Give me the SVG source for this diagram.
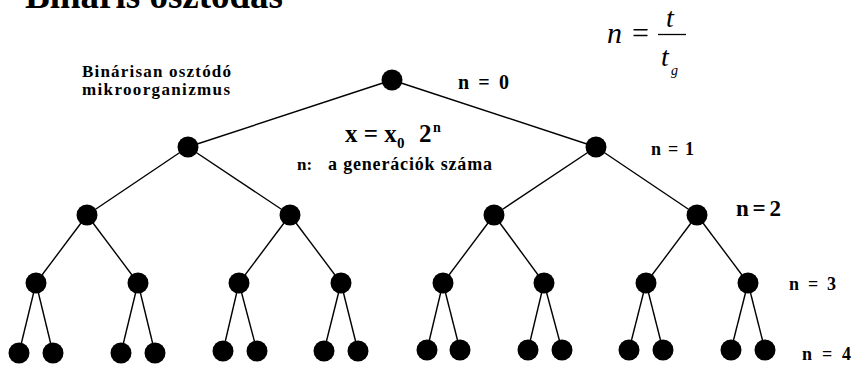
<svg xmlns="http://www.w3.org/2000/svg" width="852" height="365" viewBox="0 0 852 365">
<style>
.t{font-weight:bold}
.m{font-style:italic}
.e{stroke:#000;stroke-width:1.4;fill:none}
.n{fill:#000}
</style>
<rect width="852" height="365" fill="#fff"/>
<g id="labels" font-family="Liberation Serif, DejaVu Serif, serif" fill="#000">
<text class="t" x="25" y="8" font-size="37" textLength="258">Bináris osztódás</text>
<text class="t" x="82" y="77" font-size="17" textLength="149">Binárisan osztódó</text>
<text class="t" x="82" y="95" font-size="17" textLength="148">mikroorganizmus</text>
<g id="formula-n">
<text class="m" x="607" y="43" font-size="30">n</text>
<text x="632" y="43" font-size="30">=</text>
<line x1="658" y1="34.5" x2="686" y2="34.5" stroke="#000" stroke-width="1.3"/>
<text class="m" x="666" y="27" font-size="28">t</text>
<text class="m" x="661" y="66" font-size="28">t</text>
<text class="m" x="671" y="75" font-size="14">g</text>
</g>
<g id="formula-x">
<text class="t" x="345" y="142" font-size="25">x = x</text>
<text class="t" x="397" y="148" font-size="15">0</text>
<text class="t" x="419" y="142" font-size="25">2</text>
<text class="t" x="433" y="132" font-size="14">n</text>
</g>
<text class="t" x="297" y="170" font-size="17">n:</text>
<text class="t" x="328" y="170" font-size="18" textLength="164">a generációk száma</text>
<text class="t" x="458" y="89" font-size="20" textLength="51">n = 0</text>
<text class="t" x="651" y="155" font-size="18" textLength="43">n = 1</text>
<text class="t" x="736" y="216" font-size="23" textLength="45">n=2</text>
<text class="t" x="789" y="290" font-size="18" textLength="47">n = 3</text>
<text class="t" x="802" y="360" font-size="18" textLength="49">n = 4</text>
</g>
<g id="connectors" class="e">
<line x1="392" y1="80" x2="188" y2="147"/>
<line x1="392" y1="80" x2="596" y2="147"/>
<line x1="188" y1="147" x2="87" y2="215"/>
<line x1="188" y1="147" x2="290" y2="215"/>
<line x1="596" y1="147" x2="494" y2="215"/>
<line x1="596" y1="147" x2="697" y2="215"/>
<line x1="87" y1="215" x2="36" y2="283"/>
<line x1="87" y1="215" x2="138" y2="283"/>
<line x1="290" y1="215" x2="239" y2="283"/>
<line x1="290" y1="215" x2="341" y2="283"/>
<line x1="494" y1="215" x2="443" y2="283"/>
<line x1="494" y1="215" x2="544" y2="283"/>
<line x1="697" y1="215" x2="646" y2="283"/>
<line x1="697" y1="215" x2="748" y2="283"/>
<line x1="36" y1="283" x2="19" y2="353"/>
<line x1="36" y1="283" x2="53" y2="353"/>
<line x1="138" y1="283" x2="121" y2="353"/>
<line x1="138" y1="283" x2="155" y2="353"/>
<line x1="239" y1="283" x2="223" y2="351"/>
<line x1="239" y1="283" x2="257" y2="351"/>
<line x1="341" y1="283" x2="324" y2="351"/>
<line x1="341" y1="283" x2="358" y2="351"/>
<line x1="443" y1="283" x2="427" y2="350"/>
<line x1="443" y1="283" x2="460" y2="350"/>
<line x1="544" y1="283" x2="528" y2="350"/>
<line x1="544" y1="283" x2="562" y2="350"/>
<line x1="646" y1="283" x2="629" y2="350"/>
<line x1="646" y1="283" x2="663" y2="350"/>
<line x1="748" y1="283" x2="731" y2="350"/>
<line x1="748" y1="283" x2="765" y2="350"/>
</g>
<g id="n0"><circle class="n" cx="392" cy="80" r="10.5"/></g>
<g id="n1a"><circle class="n" cx="188" cy="147" r="10.5"/></g>
<g id="n1b"><circle class="n" cx="596" cy="147" r="10.5"/></g>
<g id="n2a"><circle class="n" cx="87" cy="215" r="10.5"/></g>
<g id="n2b"><circle class="n" cx="290" cy="215" r="10.5"/></g>
<g id="n2c"><circle class="n" cx="494" cy="215" r="10.5"/></g>
<g id="n2d"><circle class="n" cx="697" cy="215" r="10.5"/></g>
<g id="n3a"><circle class="n" cx="36" cy="283" r="10.5"/></g>
<g id="n3b"><circle class="n" cx="138" cy="283" r="10.5"/></g>
<g id="n3c"><circle class="n" cx="239" cy="283" r="10.5"/></g>
<g id="n3d"><circle class="n" cx="341" cy="283" r="10.5"/></g>
<g id="n3e"><circle class="n" cx="443" cy="283" r="10.5"/></g>
<g id="n3f"><circle class="n" cx="544" cy="283" r="10.5"/></g>
<g id="n3g"><circle class="n" cx="646" cy="283" r="10.5"/></g>
<g id="n3h"><circle class="n" cx="748" cy="283" r="10.5"/></g>
<g id="n4a"><circle class="n" cx="19" cy="353" r="10.5"/></g>
<g id="n4b"><circle class="n" cx="53" cy="353" r="10.5"/></g>
<g id="n4c"><circle class="n" cx="121" cy="353" r="10.5"/></g>
<g id="n4d"><circle class="n" cx="155" cy="353" r="10.5"/></g>
<g id="n4e"><circle class="n" cx="223" cy="351" r="10.5"/></g>
<g id="n4f"><circle class="n" cx="257" cy="351" r="10.5"/></g>
<g id="n4g"><circle class="n" cx="324" cy="351" r="10.5"/></g>
<g id="n4h"><circle class="n" cx="358" cy="351" r="10.5"/></g>
<g id="n4i"><circle class="n" cx="427" cy="350" r="10.5"/></g>
<g id="n4j"><circle class="n" cx="460" cy="350" r="10.5"/></g>
<g id="n4k"><circle class="n" cx="528" cy="350" r="10.5"/></g>
<g id="n4l"><circle class="n" cx="562" cy="350" r="10.5"/></g>
<g id="n4m"><circle class="n" cx="629" cy="350" r="10.5"/></g>
<g id="n4n"><circle class="n" cx="663" cy="350" r="10.5"/></g>
<g id="n4o"><circle class="n" cx="731" cy="350" r="10.5"/></g>
<g id="n4p"><circle class="n" cx="765" cy="350" r="10.5"/></g>
</svg>
